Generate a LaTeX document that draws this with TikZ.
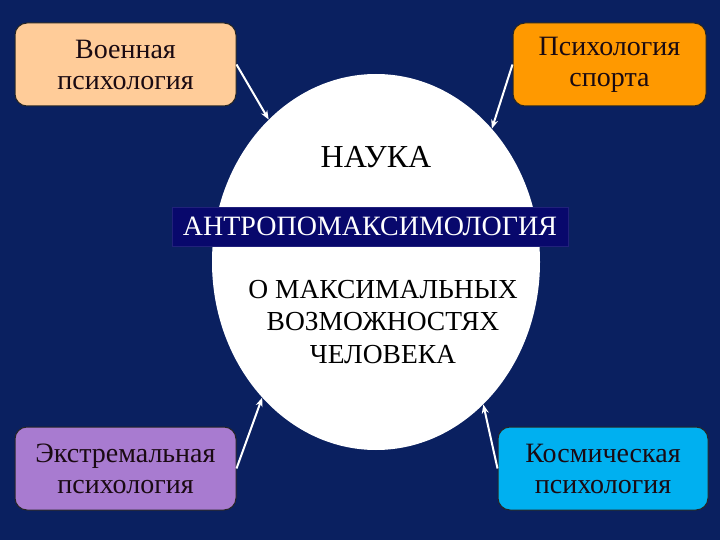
\documentclass[tikz,border=0pt]{standalone}
\usepackage{fontspec}
\setmainfont{Liberation Serif}
\usetikzlibrary{shapes.geometric,arrows.meta}
\definecolor{navy}{HTML}{0A2060}
\definecolor{bannerblue}{HTML}{08086C}
\definecolor{peach}{HTML}{FFCC99}
\definecolor{orangebox}{HTML}{FF9900}
\definecolor{violetbox}{HTML}{A87BD0}
\definecolor{cyanbox}{HTML}{00B0F0}
\definecolor{boxtext}{HTML}{1A0A12}
\tikzset{
  area/.style={draw=black!85, line width=1pt, rounded corners=12pt,
    align=center, text=boxtext, inner sep=0pt,
    font=\fontsize{28}{31}\selectfont},
  link/.style={draw=white, line width=2pt, -{Stealth[length=9pt,width=7pt]}}
}
\begin{document}
\begin{tikzpicture}[x=1pt,y=-1pt]
      \fill[navy] (0,0) rectangle (720,540);
      \draw
        (376,262) node[ellipse, fill=white, minimum width=328pt, minimum height=376pt, inner sep=0pt] (sci){}
        (376,157) node[font=\fontsize{32}{34}\selectfont] (nauka){НАУКА}
        (370,226.5) node[fill=bannerblue, draw=bannerblue!90!white, minimum width=396pt, minimum height=39pt, inner sep=0pt, text=white, font=\fontsize{28}{30}\selectfont] (anthro){АНТРОПОМАКСИМОЛОГИЯ}
        (383,322) node[align=center, font=\fontsize{27.5}{32.5}\selectfont] (about){О МАКСИМАЛЬНЫХ\\ВОЗМОЖНОСТЯХ\\ЧЕЛОВЕКА}
        (125.5,64.5) node[area, fill=peach, minimum width=221pt, minimum height=83pt] (mil){Военная\\психология}
        (609.5,64.5) node[area, fill=orangebox, minimum width=193pt, minimum height=83pt] (sport){Психология\\спорта}
        (125.5,468.5) node[area, fill=violetbox, minimum width=221pt, minimum height=83pt] (extr){Экстремальная\\психология}
        (603,468.5) node[area, fill=cyanbox, minimum width=210pt, minimum height=83pt] (cosm){Космическая\\психология};
      \begin{scope}[link]
        \draw (mil.east) to (sci.127);
        \draw (sport.west) to (sci.49);
        \draw (extr.east) to (sci.230);
        \draw (cosm.west) to (sci.307);
      \end{scope}
    \end{tikzpicture}
\end{document}
